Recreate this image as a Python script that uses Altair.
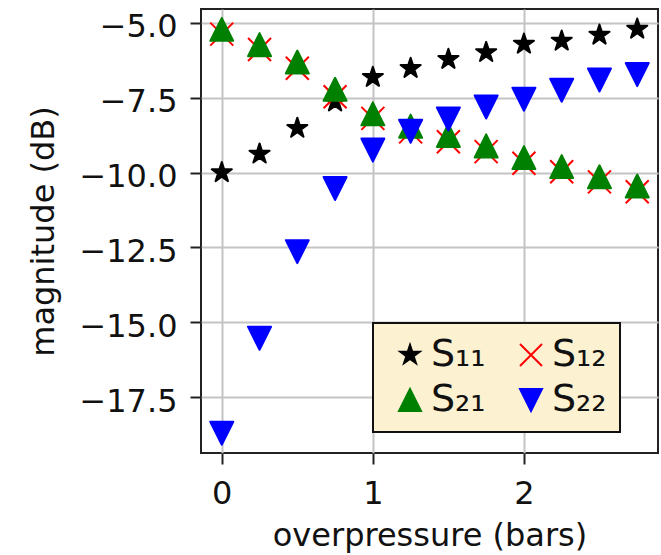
import altair as alt
import pandas as pd

# overpressure (bars)
pressure = [0.0, 0.25, 0.5, 0.75, 1.0, 1.25, 1.5, 1.75, 2.0, 2.25, 2.5, 2.75]
# magnitudes (dB)
s11 = [-10.00, -9.38, -8.52, -7.64, -6.82, -6.52, -6.22, -5.99, -5.71, -5.61, -5.41, -5.21]
s12 = [-5.38, -5.89, -6.52, -7.47, -8.19, -8.64, -8.97, -9.30, -9.69, -9.97, -10.31, -10.64]
s21 = [-5.22, -5.73, -6.31, -7.22, -8.04, -8.45, -8.76, -9.11, -9.50, -9.80, -10.14, -10.45]
s22 = [-18.70, -15.53, -12.64, -10.53, -9.25, -8.62, -8.21, -7.81, -7.55, -7.25, -6.91, -6.73]

series_names = ["S₁₁", "S₁₂", "S₂₁", "S₂₂"]
series_colors = ["#000000", "#ff0000", "#008000", "#0000ff"]
x_ticks = [0, 1, 2]
y_ticks = [-17.5, -15.0, -12.5, -10.0, -7.5, -5.0]

STAR = ("M0,-0.92L0.2065,-0.2843L0.8749,-0.2843L0.334,0.1086L0.541,0.7443"
        "L0,0.3514L-0.541,0.7443L-0.334,0.1086L-0.8749,-0.2843L-0.2065,-0.2843Z")
XMARK = "M-1,-1L1,1M-1,1L1,-1"
UP = "M0,-1L-1,1L1,1Z"
DOWN = "M-1,-1L1,-1L0,1Z"
shapes = [STAR, XMARK, UP, DOWN]

rows = []
for name, vals in zip(series_names, [s11, s12, s21, s22]):
    for p, v in zip(pressure, vals):
        rows.append({"p": p, "mag": v, "series": name})
df = pd.DataFrame(rows)

FONT = "DejaVu Sans"
cscale = alt.Scale(domain=series_names, range=series_colors)
legend = alt.Legend(
    title=None, orient="none", legendX=172, legendY=314, columns=2,
    direction="horizontal",
    fillColor="#fcf2d2", strokeColor="#111111", padding=13,
    symbolSize=484, symbolStrokeWidth=2, symbolOffset=5,
    labelFont=FONT, labelFontSize=38, labelColor="#111111", labelOffset=2,
    columnPadding=21, rowPadding=7,
)

chart = alt.Chart(df).mark_point(
    filled=True, opacity=1, size=529, strokeWidth=2, strokeJoin="round"
).encode(
    x=alt.X("p:Q", scale=alt.Scale(domain=[-0.1375, 2.8875], nice=False, zero=False),
            axis=alt.Axis(values=x_ticks, format="d", title="overpressure (bars)",
                          labelPadding=14, titleX=228.5, titleY=92,
                          titleBaseline="alphabetic", titleAlign="center")),
    y=alt.Y("mag:Q", scale=alt.Scale(domain=[-19.36, -4.54], nice=False, zero=False),
            axis=alt.Axis(values=y_ticks, format=".1f", title="magnitude (dB)",
                          labelPadding=13, labelOffset=4, titleX=-148, titleY=222,
                          titleAngle=270, titleBaseline="alphabetic", titleAlign="center")),
    color=alt.Color("series:N", scale=cscale, legend=legend),
    stroke=alt.Stroke("series:N", scale=cscale, legend=legend),
    shape=alt.Shape("series:N", scale=alt.Scale(domain=series_names, range=shapes), legend=legend),
).properties(
    width=457, height=444,
    autosize=alt.AutoSizeParams(type="none"),
    padding={"left": 201, "top": 9, "right": 3, "bottom": 102},
).configure_view(
    stroke="#222222", strokeWidth=2
).configure_axis(
    domain=False, grid=True, gridColor="#c4c4c4", gridWidth=2,
    ticks=True, tickSize=11, tickWidth=2, tickColor="#222222",
    labelFont=FONT, labelFontSize=32, labelColor="#111111",
    titleFont=FONT, titleFontSize=32, titleFontWeight="normal", titleColor="#111111",
).configure_legend(
    strokeWidth=2
)

chart.save("out.html", embed_options={"renderer": "svg", "actions": False})
